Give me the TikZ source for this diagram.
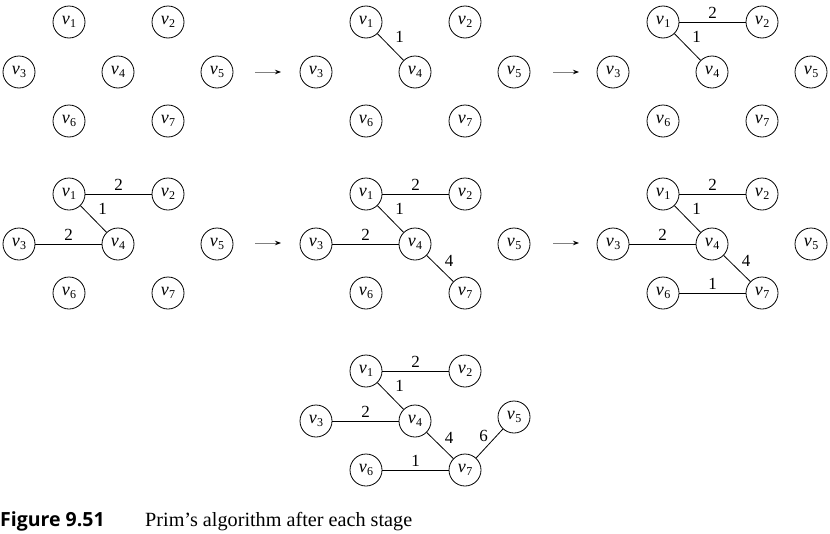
\documentclass[tikz,border=0pt]{standalone}
\usepackage{fontspec}
\setmainfont{Liberation Serif}
\newfontfamily\capsans{Open Sans}
\usetikzlibrary{arrows.meta}
\tikzset{
  vert/.style={circle, draw, line width=0.8pt, minimum size=32pt, inner sep=0pt},
  edge/.style={line width=0.8pt},
  wt/.style={font=\fontsize{17}{17}\selectfont, inner sep=0pt},
  stagearrow/.style={line width=0.9pt, draw=gray, -{Stealth[length=6pt,width=4.5pt,black]}}
}
\newcommand\vlab[1]{{\fontsize{18}{18}\selectfont\itshape v}\kern0.5pt\raisebox{-3.5pt}{\fontsize{12}{12}\selectfont #1}}
% #1 prefix, #2 x, #3 y, #4 extra y-shift of v5
\newcommand\vertset[4]{%
  \begin{scope}[shift={(#2,#3)}]
    \node[vert] (#1v1) at (0,0) {\vlab{1}};
    \node[vert] (#1v2) at (99,0) {\vlab{2}};
    \node[vert] (#1v3) at (-50,50) {\vlab{3}};
    \node[vert] (#1v4) at (49,50) {\vlab{4}};
    \node[vert] (#1v5) at (148,50+#4) {\vlab{5}};
    \node[vert] (#1v6) at (0,99) {\vlab{6}};
    \node[vert] (#1v7) at (99,99) {\vlab{7}};
  \end{scope}}
\begin{document}
\begin{tikzpicture}[x=1pt,y=-1pt]
\useasboundingbox (0,0) rectangle (830,533);
\vertset{a}{69}{22}{0}
\vertset{b}{366}{22}{0}
\vertset{c}{663}{22}{0}
\vertset{d}{69}{194}{0}
\vertset{e}{366}{194}{0}
\vertset{f}{663}{194}{0}
\vertset{g}{366}{371}{-4}
% stage arrows
\coordinate (r1s) at (255,72); \coordinate (r1e) at (281,72);
\coordinate (r2s) at (553,72); \coordinate (r2e) at (579,72);
\coordinate (r3s) at (255,243); \coordinate (r3e) at (281,243);
\coordinate (r4s) at (553,243); \coordinate (r4e) at (579,243);
\draw[stagearrow] (r1s) -- (r1e);
\draw[stagearrow] (r2s) -- (r2e);
\draw[stagearrow] (r3s) -- (r3e);
\draw[stagearrow] (r4s) -- (r4e);
% panel b
\draw[edge] (bv1) -- node[wt, xshift=9pt, yshift=10pt] {1} (bv4);
% panel c
\draw[edge] (cv1) -- node[wt, yshift=9pt] {2} (cv2);
\draw[edge] (cv1) -- node[wt, xshift=9pt, yshift=10pt] {1} (cv4);
% panel d
\draw[edge] (dv1) -- node[wt, yshift=9pt] {2} (dv2);
\draw[edge] (dv1) -- node[wt, xshift=9pt, yshift=10pt] {1} (dv4);
\draw[edge] (dv3) -- node[wt, yshift=9pt] {2} (dv4);
% panel e
\draw[edge] (ev1) -- node[wt, yshift=9pt] {2} (ev2);
\draw[edge] (ev1) -- node[wt, xshift=9pt, yshift=10pt] {1} (ev4);
\draw[edge] (ev3) -- node[wt, yshift=9pt] {2} (ev4);
\draw[edge] (ev4) -- node[wt, xshift=9pt, yshift=8pt] {4} (ev7);
% panel f
\draw[edge] (fv1) -- node[wt, yshift=9pt] {2} (fv2);
\draw[edge] (fv1) -- node[wt, xshift=9pt, yshift=10pt] {1} (fv4);
\draw[edge] (fv3) -- node[wt, yshift=9pt] {2} (fv4);
\draw[edge] (fv4) -- node[wt, xshift=9pt, yshift=8pt] {4} (fv7);
\draw[edge] (fv6) -- node[wt, yshift=9pt] {1} (fv7);
% panel g
\draw[edge] (gv1) -- node[wt, yshift=9pt] {2} (gv2);
\draw[edge] (gv1) -- node[wt, xshift=9pt, yshift=10pt] {1} (gv4);
\draw[edge] (gv3) -- node[wt, yshift=9pt] {2} (gv4);
\draw[edge] (gv4) -- node[wt, xshift=9pt, yshift=8pt] {4} (gv7);
\draw[edge] (gv6) -- node[wt, yshift=9pt] {1} (gv7);
\draw[edge] (gv7) -- node[wt, xshift=-6pt, yshift=8pt] {6} (gv5);
% caption
\node[anchor=base west, inner sep=0pt, font=\capsans\bfseries\fontsize{19.5}{20}\selectfont] (figlab) at (0,526) {Figure 9.51};
\node[anchor=base west, inner sep=0pt, font=\fontsize{20.2}{20}\selectfont] (figcap) at (145,526) {Prim’s algorithm after each stage};
\end{tikzpicture}
\end{document}
